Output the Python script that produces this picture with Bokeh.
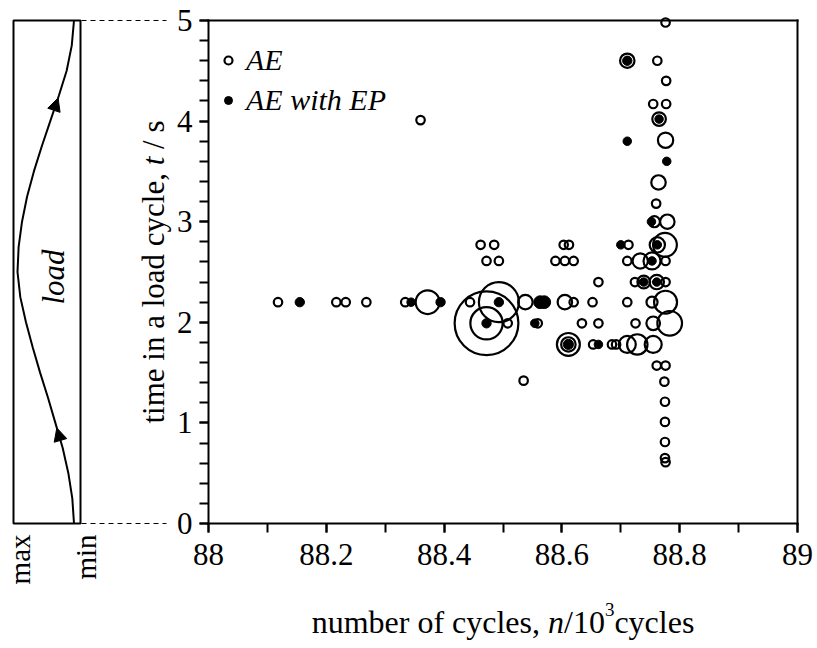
import numpy as np
from bokeh.plotting import figure
from bokeh.models import (Range1d, FixedTicker, CustomJSTickFormatter, Legend, LegendItem,
                          Arrow, NormalHead, ColumnDataSource, LinearAxis)
from bokeh.core.properties import value
from bokeh.embed import file_html
from bokeh.resources import INLINE

# ---------------- data ----------------
# acoustic emission events (AE): cycles n/10^3, time in load cycle t/s, relative amplitude
ae_n = [88.776, 88.762, 88.711, 88.777, 88.755, 88.777, 88.765, 88.360, 88.776, 88.764,
        88.760, 88.757, 88.779,
        88.462, 88.485, 88.603, 88.612, 88.713, 88.762, 88.775,
        88.472, 88.493, 88.589, 88.605, 88.620, 88.711, 88.733, 88.753, 88.776,
        88.662, 88.724, 88.739, 88.761, 88.776,
        88.118, 88.217, 88.233, 88.268, 88.334, 88.372, 88.444, 88.493, 88.538, 88.605,
        88.620, 88.652, 88.711, 88.753, 88.776,
        88.472, 88.472, 88.508, 88.559, 88.634, 88.662, 88.725, 88.755, 88.783,
        88.611, 88.611, 88.653, 88.685, 88.692, 88.711, 88.728, 88.755,
        88.761, 88.776, 88.535, 88.774, 88.775, 88.775, 88.775, 88.775, 88.776]
ae_t = [4.98, 4.60, 4.60, 4.40, 4.17, 4.17, 4.02, 4.01, 3.81, 3.39,
        3.18, 3.00, 3.00,
        2.77, 2.77, 2.77, 2.77, 2.77, 2.77, 2.77,
        2.61, 2.61, 2.61, 2.61, 2.61, 2.61, 2.61, 2.61, 2.61,
        2.40, 2.40, 2.40, 2.40, 2.40,
        2.20, 2.20, 2.20, 2.20, 2.20, 2.20, 2.20, 2.20, 2.20, 2.20,
        2.20, 2.20, 2.20, 2.20, 2.20,
        1.99, 1.99, 1.99, 1.99, 1.99, 1.99, 1.99, 1.99, 1.99,
        1.78, 1.78, 1.78, 1.78, 1.78, 1.78, 1.78, 1.78,
        1.57, 1.57, 1.42, 1.41, 1.21, 1.01, 0.81, 0.65, 0.61]
ae_amp = [1.0, 1.0, 1.7, 1.0, 1.0, 1.0, 1.6, 1.0, 1.8, 1.7,
          1.0, 1.3, 1.7,
          1.0, 1.0, 1.0, 1.0, 1.0, 1.8, 2.8,
          1.0, 1.0, 1.0, 1.0, 1.0, 1.0, 1.8, 2.0, 1.0,
          1.0, 1.0, 1.5, 1.7, 1.0,
          1.0, 1.0, 1.0, 1.0, 1.0, 2.8, 1.0, 4.7, 1.7, 1.7,
          1.0, 1.0, 1.0, 1.3, 2.7,
          7.5, 3.8, 1.0, 1.0, 1.0, 1.0, 1.0, 1.6, 2.9,
          2.7, 1.7, 1.0, 1.0, 1.0, 2.0, 2.4, 2.0,
          1.0, 1.0, 1.0, 1.0, 1.0, 1.0, 1.0, 1.0, 1.0]

# AE events with electric potential change (EP)
ep_n = [88.711, 88.765, 88.711, 88.778, 88.752, 88.700, 88.762, 88.753, 88.739, 88.761,
        88.155, 88.344, 88.394, 88.493, 88.563, 88.570, 88.472, 88.554, 88.611, 88.662]
ep_t = [4.60, 4.02, 3.80, 3.60, 3.00, 2.77, 2.77, 2.61, 2.40, 2.40,
        2.20, 2.20, 2.20, 2.20, 2.20, 2.20, 1.99, 1.99, 1.78, 1.78]
ep_amp = [1.1, 1.0, 1.0, 1.0, 1.0, 1.0, 1.0, 1.0, 1.0, 1.0,
          1.1, 1.0, 1.1, 1.1, 1.5, 1.5, 1.1, 1.0, 1.2, 1.0]

# load curve of one cycle (0 = min, 1 = max)
load_t = [0, 0.25, 0.5, 0.75, 1.0, 1.25, 1.5, 1.75, 2.0, 2.25, 2.5,
          2.75, 3.0, 3.25, 3.5, 3.75, 4.0, 4.25, 4.5, 4.75, 5.0]
load_v = [0.0, 0.03, 0.10, 0.20, 0.33, 0.46, 0.60, 0.73, 0.85, 0.95, 1.0,
          0.98, 0.92, 0.83, 0.71, 0.57, 0.42, 0.27, 0.13, 0.04, 0.0]
arrow_t = [0.95, 4.23]

x_ticks = [88.0, 88.2, 88.4, 88.6, 88.8, 89.0]
x_minor = [88.0 + 0.1 * i for i in range(11)]
y_ticks = [0, 1, 2, 3, 4, 5]
y_minor = [0.2 * i for i in range(26)]

# ---------------- layout constants (page pixels) ----------------
FONT = "Liberation Serif"
FS = 31
FSX = 32
W, H = 815, 646
AX_L, AX_R, AX_T, AX_B = 208, 797, 20, 523
PXN = (AX_R - AX_L) / 1.0          # px per 10^3 cycles
PXT = (AX_B - AX_T) / 5.0          # px per second
LMAX, LMIN = 17.0, 73.5            # page x of load max / min
PXL = LMIN - LMAX


def nx(px):                        # page x -> n units
    return 88 + (px - AX_L) / PXN


def lx(px):                        # page x -> load units
    return (LMIN - px) / PXL


def ty(py):                        # page y -> t units
    return (AX_B - py) / PXT


p = figure(width=W, height=H, x_range=Range1d(nx(0), nx(W)), y_range=Range1d(ty(H), ty(0)),
           x_axis_type=None, y_axis_type=None, min_border=0,
           min_border_left=0, min_border_right=0, min_border_top=0, min_border_bottom=0,
           output_backend="svg", toolbar_location=None)
p.extra_x_ranges = {"load": Range1d(lx(0), lx(W))}
p.outline_line_color = None
p.background_fill_color = "white"
p.border_fill_color = "white"


def style_axis(ax):
    ax.axis_line_width = 2
    ax.axis_line_color = "black"
    ax.axis_line_cap = "square"
    ax.major_tick_line_width = 2
    ax.minor_tick_line_width = 2
    ax.major_tick_in = 0
    ax.minor_tick_in = 0
    ax.major_tick_out = 9
    ax.minor_tick_out = 9
    ax.major_label_text_font = FONT
    ax.major_label_text_font_size = f"{FS}px"
    ax.major_label_text_color = "black"


xax = LinearAxis(fixed_location=0, bounds=(88, 89),
                 ticker=FixedTicker(ticks=x_ticks, minor_ticks=x_minor),
                 formatter=CustomJSTickFormatter(code="return (Math.round(tick*10)/10).toString();"))
style_axis(xax)
xax.major_label_standoff = 11
p.add_layout(xax, "below")

yax = LinearAxis(fixed_location=88, bounds=(0, 5),
                 ticker=FixedTicker(ticks=y_ticks, minor_ticks=y_minor))
style_axis(yax)
yax.major_label_standoff = 7
p.add_layout(yax, "left")

tax = LinearAxis(fixed_location=5, bounds=(88, 89), ticker=FixedTicker(ticks=[]))
style_axis(tax)
p.add_layout(tax, "above")
rax = LinearAxis(fixed_location=89, bounds=(0, 5), ticker=FixedTicker(ticks=[]))
style_axis(rax)
p.add_layout(rax, "right")

# ---------------- data marks ----------------
K = 8.5
src_ae = ColumnDataSource(dict(n=ae_n, t=ae_t, s=[a * K for a in ae_amp]))
src_ep = ColumnDataSource(dict(n=ep_n, t=ep_t, s=[a * K for a in ep_amp]))
r_ae = p.scatter("n", "t", size="s", source=src_ae, marker="circle",
                 fill_color=None, line_color="black", line_width=2.2)
r_ep = p.scatter("n", "t", size="s", source=src_ep, marker="circle",
                 fill_color="black", line_color="black", line_width=1)

legend = Legend(items=[LegendItem(label="AE", renderers=[r_ae]),
                       LegendItem(label="AE with EP", renderers=[r_ep])],
                location=(AX_L + 10, H - 40 - 80), orientation="vertical",
                glyph_width=20, glyph_height=40, label_height=40, spacing=0,
                padding=0, margin=0, label_standoff=8,
                border_line_alpha=0, background_fill_alpha=0,
                label_text_font=FONT, label_text_font_style="italic",
                label_text_font_size="30px", label_text_color="black")
p.add_layout(legend)

# ---------------- axis titles (mixed italic) ----------------
# x: number of cycles, n/10^3cycles
x_pieces = [("number of cycles,", "normal", 7.137, FSX, 0.0, 0.25),
            ("n", "italic", 0.5, FSX, 0.0, 0.0),
            ("/10", "normal", 1.278, FSX, 0.0, 0.0),
            ("3", "normal", 0.5, int(FSX * 0.62), 12.0, 0.0),
            ("cycles", "normal", 2.499, FSX, 0.0, 0.0)]
tot = sum(w * (fs / FSX) + g for _, _, w, fs, _, g in x_pieces)
xp = (AX_L + AX_R) / 2 - tot * FSX / 2
for txt, sty, w, fs, dy, gap in x_pieces:
    p.text(x=[nx(xp)], y=[ty(621 - dy)], text=[txt], text_align="left",
           text_baseline="alphabetic", text_font=value(FONT), text_font_style=sty,
           text_font_size=f"{fs}px", text_color="black")
    xp += (w * fs / FSX + gap) * FSX

# y: time in a load cycle, t / s
y_pieces = [("time in a load cycle,", "normal", 8.082), ("t", "italic", 0.278), ("/ s", "normal", 0.917)]
ytot = 8.082 + 0.25 + 0.278 + 0.25 + 0.917
yp = (AX_T + AX_B) / 2 + ytot * FS / 2
for txt, sty, w in y_pieces:
    p.text(x=[nx(153)], y=[ty(yp)], text=[txt], angle=np.pi / 2, text_align="left",
           text_baseline="middle", text_font=value(FONT), text_font_style=sty,
           text_font_size=f"{FS}px", text_color="black")
    yp -= (w + 0.25) * FS

# ---------------- load panel ----------------
q_kw = dict(x_range_name="load")
p.quad(left=[lx(13)], right=[lx(80)], bottom=[0], top=[5], fill_color=None,
       line_color="black", line_width=2, **q_kw)
p.segment(x0=[lx(81), lx(81)], y0=[5, 0], x1=[lx(166), lx(166)], y1=[5, 0],
          line_color="black", line_width=1, line_dash="5 4", **q_kw)
p.line(load_v, load_t, line_color="black", line_width=2, **q_kw)
for ta in arrow_t:
    ts = ta - 0.2
    p.add_layout(Arrow(end=NormalHead(size=13, fill_color="black", line_color="black", line_width=1),
                       x_start=float(np.interp(ts, load_t, load_v)), y_start=ts,
                       x_end=float(np.interp(ta, load_t, load_v)), y_end=ta,
                       line_alpha=0, x_range_name="load"))

p.text(x=[lx(53)], y=[2.45], text=["load"], angle=np.pi / 2, text_align="center",
       text_baseline="middle", text_font=value(FONT), text_font_style="italic",
       text_font_size=f"{FS}px", text_color="black", **q_kw)
p.text(x=[lx(19), lx(85)], y=[ty(534), ty(534)], text=["max", "min"], angle=np.pi / 2,
       text_align="right", text_baseline="middle", text_font=value(FONT),
       text_font_size="29px", text_color="black", **q_kw)

open("out.html", "w").write(file_html(p, INLINE))
